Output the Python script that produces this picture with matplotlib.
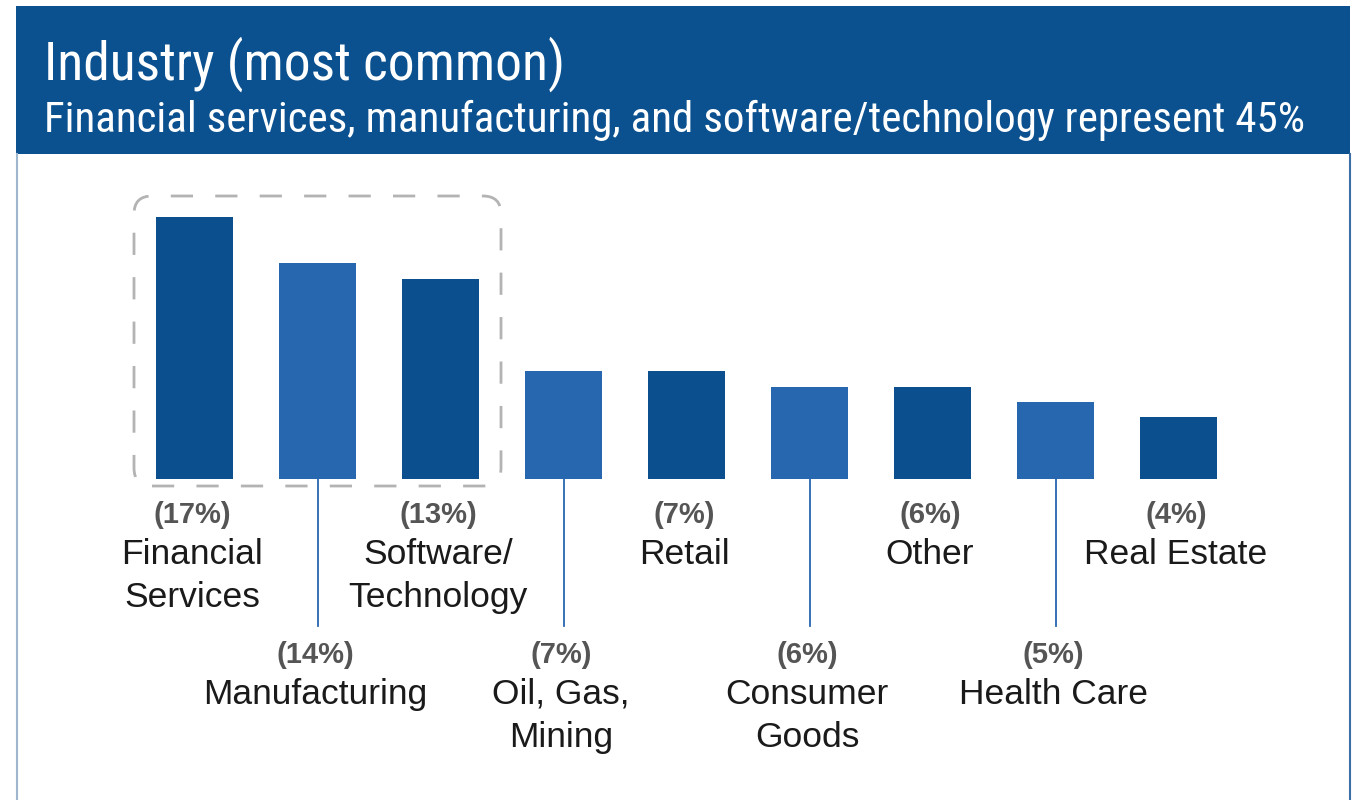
import matplotlib.pyplot as plt
from matplotlib.patches import Rectangle, FancyBboxPatch
from matplotlib.transforms import blended_transform_factory

# Industry breakdown
industries = ['Financial\nServices', 'Manufacturing', 'Software/\nTechnology',
              'Oil, Gas,\nMining', 'Retail', 'Consumer\nGoods', 'Other',
              'Health Care', 'Real Estate']
shares = [17, 14, 13, 7, 7, 6, 6, 5, 4]

title = 'Industry (most common)'
subtitle = 'Financial services, manufacturing, and software/technology represent 45%'

DARK = '#0B4F8F'
LIGHT = '#2767B0'
W, H = 1359, 800

fig = plt.figure(figsize=(W / 100, H / 100), dpi=100)
fig.patch.set_facecolor('white')

# pixel-space overlay for the frame and header
bg = fig.add_axes([0, 0, 1, 1])
bg.set_xlim(0, W)
bg.set_ylim(0, H)
bg.axis('off')
bg.add_patch(Rectangle((16, H - 154), 1334, 148, facecolor='#0B5190', edgecolor='none'))
bg.plot([17, 17], [0, H - 154], color='#9FB6CF', lw=1.5)
bg.plot([1349.5, 1349.5], [0, H - 154], color='#3C6FA6', lw=1.5)

title_font = ['Roboto Condensed', 'DejaVu Sans']
bg.text(44, H - 80, title, color='white', fontsize=38.5, family=title_font, va='baseline')
bg.text(44, H - 132, subtitle, color='white', fontsize=31, family=title_font, va='baseline')

# bar chart
ax = fig.add_axes([133 / W, 1 - 479 / H, (1240 - 133) / W, 262 / H])
ax.set_xlim(-0.5, len(shares) - 0.5)
ax.set_ylim(0, 17)
ax.axis('off')
x = list(range(len(shares)))
colors = [DARK if i % 2 == 0 else LIGHT for i in x]
ax.bar(x, shares, width=0.626, color=colors)

# leader lines for the labels set lower down
tr = blended_transform_factory(ax.transData, fig.transFigure)
for i in x:
    if i % 2 == 1:
        ax.plot([i, i], [1 - 479 / H, 1 - 626 / H], color=LIGHT, lw=1.3,
                transform=tr, clip_on=False)

label_font = ['Liberation Sans', 'DejaVu Sans']
for i, (name, v) in enumerate(zip(industries, shares)):
    base = 523 if i % 2 == 0 else 663
    ax.text(i - 0.02, 1 - base / H, f'({v}%)', transform=tr, ha='center', va='baseline',
            fontsize=21, fontweight='bold', color='#555555', family=label_font)
    for k, line in enumerate(name.split('\n')):
        ax.text(i - 0.02, 1 - (base + 41 + 43 * k) / H, line, transform=tr, ha='center',
                va='baseline', fontsize=25.5, color='#1a1a1a', family=label_font)

# dashed rounded box around the top three
fig.canvas.draw()
half = 0.626 / 2
(x0, y0) = ax.transData.transform((0 - half, 0))
(x1, y1) = ax.transData.transform((2 + half, shares[0]))
box = FancyBboxPatch((x0 - 22, y0 - 7), (x1 - x0) + 44, (y1 - y0) + 28,
                     boxstyle='round,pad=0,rounding_size=18',
                     facecolor='none', edgecolor='#B3B3B3', lw=2,
                     linestyle=(0, (8, 8)))
bg.add_patch(box)

fig.savefig('out.png', dpi=100)
